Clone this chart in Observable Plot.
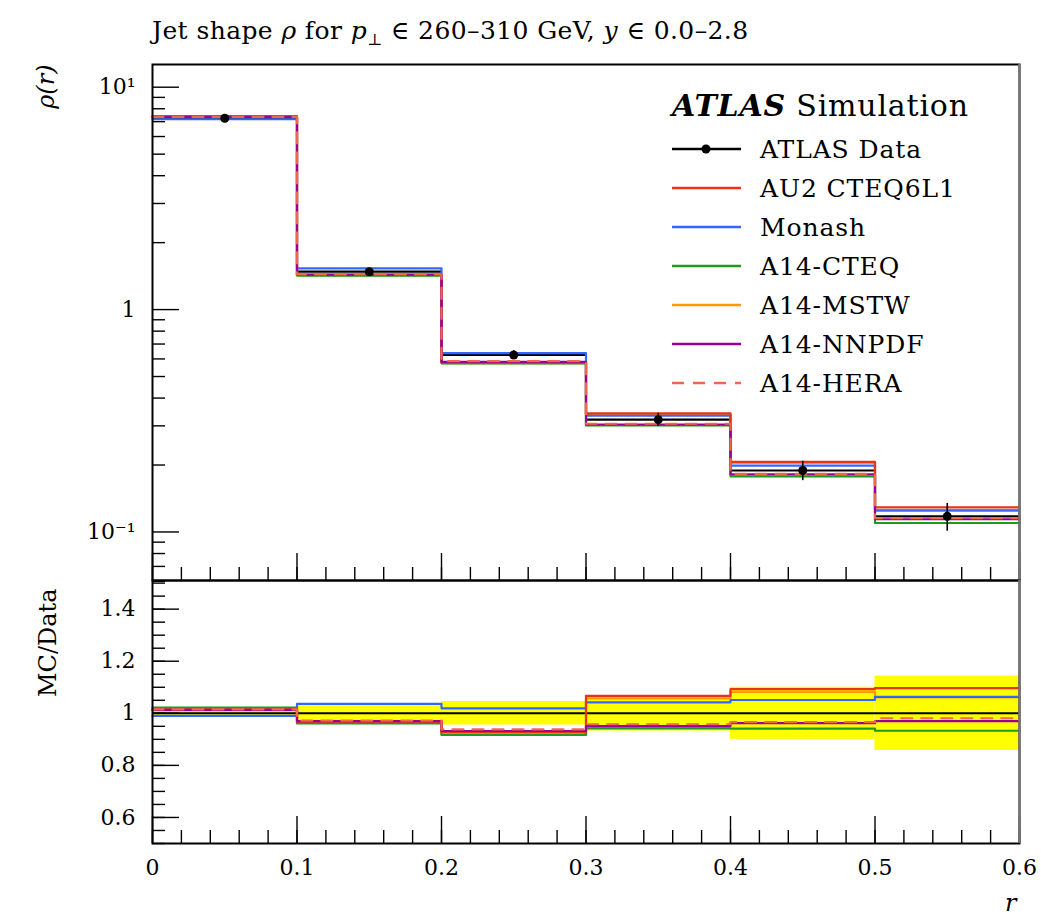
<!DOCTYPE html>
<html><head><meta charset="utf-8">
<script src="https://cdn.jsdelivr.net/npm/d3@7"></script>
<script src="https://cdn.jsdelivr.net/npm/@observablehq/plot@0.6"></script>
<style>
body{margin:0;background:#fff;}
#wrap{position:relative;width:1041px;height:922px;font-family:"DejaVu Serif",serif;color:#000;overflow:hidden;}
#title{position:absolute;left:152px;top:16px;font-size:25px;letter-spacing:0.4px;white-space:nowrap;}
#title sub{font-size:16px;}
#top,#bot{position:absolute;left:0;}
#top{top:0}
#bot{top:580px}
#legend{position:absolute;left:0;top:0;width:1041px;height:922px;pointer-events:none;}
.lg{position:absolute;white-space:nowrap;font-size:25px;letter-spacing:0.9px;line-height:1;transform:translateY(-50%);}
</style></head><body>
<div id="wrap">
<div id="title">Jet shape <i>ρ</i> for <i>p</i><sub>⊥</sub> ∈ 260–310 GeV, <i>y</i> ∈ 0.0–2.8</div>
<div id="top"></div><div id="bot"></div><div id="legend"></div>
</div>
<script>
// ---- data ----
const binLo = [0.0, 0.1, 0.2, 0.3, 0.4, 0.5];
const binHi = [0.1, 0.2, 0.3, 0.4, 0.5, 0.6];
const dataRho = [7.25, 1.48, 0.625, 0.320, 0.189, 0.1176];
const dataRelErr = [0.008, 0.029, 0.045, 0.068, 0.100, 0.143];

const ratioAU2    = [1.015, 0.968, 0.928, 1.067, 1.093, 1.097];
const ratioMonash = [0.990, 1.036, 1.019, 1.042, 1.051, 1.063];
const ratioCTEQ   = [1.022, 0.961, 0.917, 0.942, 0.941, 0.933];
const ratioMSTW   = [1.012, 0.964, 0.919, 1.057, 1.082, 1.061];
const ratioNNPDF  = [1.013, 0.970, 0.932, 0.951, 0.962, 0.970];
const ratioHERA   = [1.015, 0.972, 0.938, 0.958, 0.966, 0.981];

const seriesNames  = ["AU2 CTEQ6L1", "Monash", "A14-CTEQ", "A14-MSTW", "A14-NNPDF", "A14-HERA"];
const seriesRatios = [ratioAU2, ratioMonash, ratioCTEQ, ratioMSTW, ratioNNPDF, ratioHERA];
const seriesColors = ["#ee3311", "#3366ff", "#1f9a1f", "#ff9900", "#990099", "#f2664c"];
const seriesDashed = [false, false, false, false, false, true];
const drawOrder = [3, 2, 1, 0, 4, 5];

const xMajorTicks = [0, 0.1, 0.2, 0.3, 0.4, 0.5, 0.6];
const xTickLabels = ["0", "0.1", "0.2", "0.3", "0.4", "0.5", "0.6"];
const xMinorTicks = d3.range(0, 0.6001, 0.02).map(v => +v.toFixed(2));
const yTopMajor = [0.1, 1, 10];
const yTopLabels = ["10⁻¹", "1", "10¹"];
const yTopMinor = [0.06,0.07,0.08,0.09,0.2,0.3,0.4,0.5,0.6,0.7,0.8,0.9,2,3,4,5,6,7,8,9];
const yBotMajor = [0.6, 0.8, 1.0, 1.2, 1.4];
const yBotLabels = ["0.6", "0.8", "1", "1.2", "1.4"];
const yBotMinor = d3.range(0.5, 1.5001, 0.05).map(v => +v.toFixed(2));

// ---- derived tables ----
const bins = binLo.map((lo, i) => ({lo, hi: binHi[i], mid: (lo + binHi[i]) / 2, rho: dataRho[i], err: dataRelErr[i]}));
function steps(vals) {
  const pts = binLo.map((x, i) => ({x, y: vals[i]}));
  pts.push({x: binHi[binHi.length - 1], y: vals[vals.length - 1]});
  return pts;
}
const FONT = "DejaVu Serif, serif";
const styleObj = {fontFamily: FONT, fontSize: "22px", color: "#000", background: "none", overflow: "visible"};

function mcLines(transform) {
  return drawOrder.map(k => Plot.line(steps(seriesRatios[k].map((r, i) => transform(r, i))), {
    x: "x", y: "y", curve: "step-after", stroke: seriesColors[k], strokeWidth: 2.2,
    strokeDasharray: seriesDashed[k] ? "11,9" : null
  }));
}
function xTicks() {
  return [
    Plot.axisX(xMinorTicks, {anchor: "bottom", tickSize: 13, dy: -13, fill: "none", label: null, strokeWidth: 1.4}),
    Plot.axisX(xMajorTicks, {anchor: "bottom", tickSize: 27, dy: -27, fill: "none", label: null, strokeWidth: 1.4})
  ];
}

// ---- top panel ----
const topPlot = Plot.plot({
  width: 1041, height: 580, marginTop: 64, marginBottom: 0, marginLeft: 152, marginRight: 22,
  x: {domain: [0, 0.6]},
  y: {type: "log", domain: [0.0605, 12.65]},
  style: styleObj,
  marks: [
    Plot.ruleY(bins, {x1: "lo", x2: "hi", y: "rho", stroke: "black", strokeWidth: 2.2}),
    ...mcLines((r, i) => r * dataRho[i]),
    Plot.ruleX(bins, {x: "mid", y1: d => d.rho * (1 - d.err), y2: d => d.rho * (1 + d.err), stroke: "black", strokeWidth: 1.6}),
    Plot.dot(bins, {x: "mid", y: "rho", r: 4.5, fill: "black"}),
    Plot.axisY(yTopMinor, {anchor: "left", tickSize: 13, dx: 13, fill: "none", label: null, strokeWidth: 1.4}),
    Plot.axisY(yTopMajor, {anchor: "left", tickSize: 27, dx: 27, fill: "none", label: null, strokeWidth: 1.4}),
    Plot.axisY(yTopMajor, {anchor: "left", tickSize: 0, tickPadding: 17, label: null, fontSize: 22, fontFamily: FONT,
      tickFormat: d => yTopLabels[yTopMajor.indexOf(d)]}),
    ...xTicks(),
    Plot.frame({stroke: "black", strokeWidth: 2}),
    Plot.ruleX([0.6], {stroke: "#777", strokeWidth: 2.5}),
    Plot.text(["ρ(r)"], {frameAnchor: "top-left", dx: -106, dy: 0, rotate: -90, textAnchor: "end", lineAnchor: "middle",
      fontSize: 24, fontStyle: "italic", fontFamily: FONT})
  ]
});
document.getElementById("top").appendChild(topPlot);

// ---- ratio panel ----
const botPlot = Plot.plot({
  width: 1041, height: 342, marginTop: 0, marginBottom: 79, marginLeft: 152, marginRight: 22,
  x: {domain: [0, 0.6]},
  y: {domain: [0.5, 1.51]},
  style: styleObj,
  marks: [
    Plot.rect(bins, {x1: "lo", x2: "hi", y1: d => 1 - d.err, y2: d => 1 + d.err, fill: "#ffff00"}),
    Plot.ruleY([1], {stroke: "black", strokeWidth: 2}),
    ...mcLines(r => r),
    Plot.axisY(yBotMinor, {anchor: "left", tickSize: 13, dx: 13, fill: "none", label: null, strokeWidth: 1.4}),
    Plot.axisY(yBotMajor, {anchor: "left", tickSize: 27, dx: 27, fill: "none", label: null, strokeWidth: 1.4}),
    Plot.axisY(yBotMajor, {anchor: "left", tickSize: 0, tickPadding: 17, label: null, fontSize: 22, fontFamily: FONT,
      tickFormat: d => yBotLabels[yBotMajor.indexOf(d)]}),
    ...xTicks(),
    Plot.axisX(xMajorTicks, {anchor: "bottom", tickSize: 0, tickPadding: 16, label: null, fontSize: 22, fontFamily: FONT,
      tickFormat: d => xTickLabels[xMajorTicks.indexOf(d)]}),
    Plot.frame({stroke: "black", strokeWidth: 2}),
    Plot.ruleX([0.6], {stroke: "#777", strokeWidth: 2.5}),
    Plot.text(["MC/Data"], {frameAnchor: "top-left", dx: -104, dy: 8, rotate: -90, textAnchor: "end", lineAnchor: "middle",
      fontSize: 24, fontFamily: FONT}),
    Plot.text(["r"], {frameAnchor: "bottom-right", dx: -3, dy: 60, textAnchor: "end", lineAnchor: "middle",
      fontSize: 24, fontStyle: "italic", fontFamily: FONT})
  ]
});
document.getElementById("bot").appendChild(botPlot);

// ---- legend (HTML overlay) ----
const lg = document.getElementById("legend");
const legendNames = ["ATLAS Data", ...seriesNames];
const legendColors = ["#000", ...seriesColors];
const legendDashed = [false, ...seriesDashed];
let html = `<div class="lg" style="left:672px;top:106px;font-size:30px;letter-spacing:0.8px;"><b><i>ATLAS</i></b> Simulation</div>`;
let svg = `<svg width="1041" height="922" style="position:absolute;left:0;top:0">`;
legendNames.forEach((n, i) => {
  const y = 149 + 39 * i;
  html += `<div class="lg" style="left:760px;top:${y}px;">${n}</div>`;
  svg += `<line x1="672" x2="741" y1="${y}" y2="${y}" stroke="${legendColors[i]}" stroke-width="2.4" ${legendDashed[i] ? 'stroke-dasharray="12,9"' : ''}/>`;
  if (i === 0) svg += `<circle cx="706" cy="${y}" r="4.5" fill="#000"/>`;
});
svg += `</svg>`;
lg.innerHTML = svg + html;
</script>
</body></html>
